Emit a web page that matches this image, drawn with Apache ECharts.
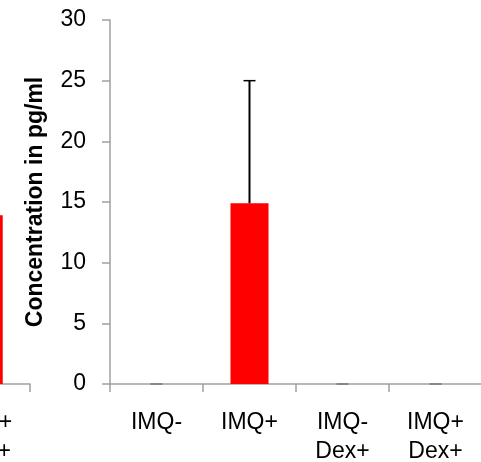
<!DOCTYPE html>
<html>
<head>
<meta charset="utf-8">
<script src="https://cdn.jsdelivr.net/npm/echarts@6/dist/echarts.min.js"></script>
</head>
<body style="margin:0;background:#fff;">
<div id="main" style="width: 481px;height:462px;"></div>
<script>
    // categories shared by both panels
    var categories = ['IMQ-', 'IMQ+', 'IMQ-\nDex+', 'IMQ+\nDex+'];
    // right panel: mean and error (upper) in pg/ml
    var meanValues = [0, 14.9, 0, 0];
    var errorValues = [0, 10.1, 0, 0];
    // left panel, only its last bar is visible at the edge
    var leftValues = [0, 0, 0, 13.9];
    var yTicks = [0, 5, 10, 15, 20, 25, 30];

    var myChart = echarts.init(document.getElementById('main'));

    var axisGray = '#a0a0a0';
    var font = 'Liberation Sans';

    function catAxis(gridIndex) {
        return {
            type: 'category',
            gridIndex: gridIndex,
            data: categories,
            axisLine: {lineStyle: {color: axisGray, width: 1.5}},
            axisTick: {show: true, length: 8, lineStyle: {color: axisGray, width: 1.5}},
            axisLabel: {
                color: '#000', fontFamily: font, fontSize: 23,
                lineHeight: 29, margin: 24, interval: 0
            }
        };
    }

    var option = {
        animation: false,
        grid: [
            {left: 110, right: -1, top: 20, bottom: 78, outerBoundsMode: 'none'},
            {left: -340, right: 451, top: 20, bottom: 78, outerBoundsMode: 'none'}
        ],
        xAxis: [catAxis(0), catAxis(1)],
        yAxis: [
            {
                type: 'value',
                gridIndex: 0,
                min: yTicks[0],
                max: yTicks[yTicks.length - 1],
                interval: 5,
                name: 'Concentration in pg/ml',
                nameLocation: 'middle',
                nameRotate: 90,
                nameGap: 63,
                nameTextStyle: {color: '#000', fontFamily: font, fontSize: 23, fontWeight: 'bold'},
                splitLine: {show: false},
                axisLine: {show: true, lineStyle: {color: axisGray, width: 1.5}},
                axisTick: {show: true, length: 8, lineStyle: {color: axisGray, width: 1.5}},
                axisLabel: {color: '#000', fontFamily: font, fontSize: 23, margin: 24}
            },
            {
                type: 'value',
                gridIndex: 1,
                min: 0,
                max: 30,
                interval: 5,
                show: false,
                splitLine: {show: false}
            }
        ],
        series: [
            {
                type: 'bar',
                xAxisIndex: 0,
                yAxisIndex: 0,
                data: meanValues,
                barWidth: 38,
                itemStyle: {color: '#ff0000'}
            },
            {
                type: 'custom',
                xAxisIndex: 0,
                yAxisIndex: 0,
                data: meanValues.map(function (v, i) { return [i, v, v + errorValues[i]]; }),
                renderItem: function (params, api) {
                    var base = api.coord([api.value(0), api.value(1)]);
                    var top = api.coord([api.value(0), api.value(2)]);
                    var col = api.value(2) > api.value(1) ? '#000' : '#777';
                    return {
                        type: 'group',
                        children: [
                            {type: 'line', shape: {x1: base[0], y1: base[1], x2: top[0], y2: top[1]},
                             style: {stroke: col, lineWidth: 2}},
                            {type: 'line', shape: {x1: top[0] - 6, y1: top[1], x2: top[0] + 6, y2: top[1]},
                             style: {stroke: col, lineWidth: 1.5}}
                        ]
                    };
                },
                z: 3
            },
            {
                type: 'bar',
                xAxisIndex: 1,
                yAxisIndex: 1,
                data: leftValues,
                barWidth: 38,
                itemStyle: {color: '#ff0000'}
            }
        ]
    };
    myChart.setOption(option);
</script>
</body>
</html>
